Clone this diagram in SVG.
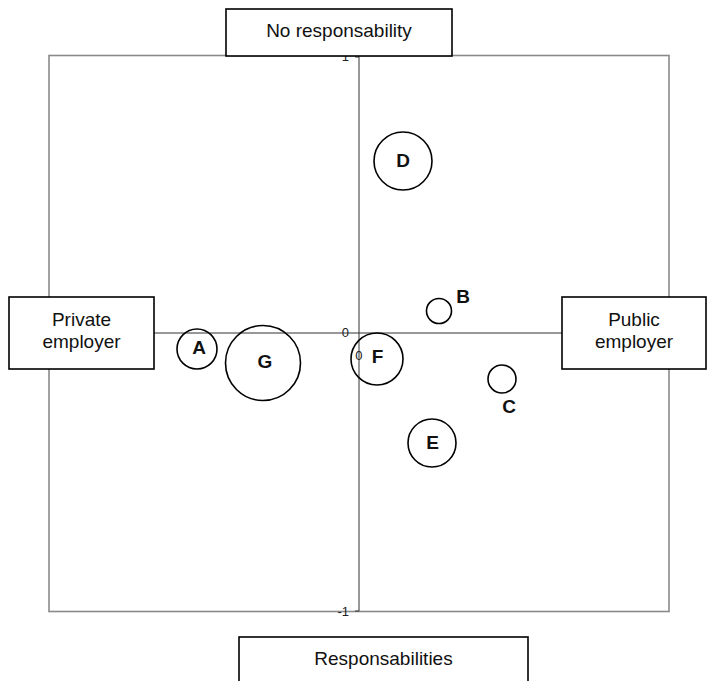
<svg xmlns="http://www.w3.org/2000/svg" width="715" height="681" viewBox="0 0 715 681">
  <style>
    .frame { fill: none; stroke: #8a8a8a; stroke-width: 1.6; }
    .axis { stroke: #333; stroke-width: 1; fill: none; }
    .box { fill: #fff; stroke: #000; stroke-width: 1.6; }
    .boxtext { font-family: "Liberation Sans", Arial, sans-serif; font-size: 19px; fill: #111; text-anchor: middle; }
    .bubble { fill: none; stroke: #000; stroke-width: 1.6; }
    .letter { font-family: "Liberation Sans", Arial, sans-serif; font-size: 19px; font-weight: bold; fill: #111; text-anchor: middle; }
    .tick { font-family: "Liberation Sans", Arial, sans-serif; font-size: 13px; fill: #222; text-anchor: end; }
  </style>
  <rect width="715" height="681" fill="#fff"/>

  <!-- plot frame -->
  <rect class="frame" x="49" y="55.5" width="620" height="556"/>

  <!-- axes and tick labels -->
  <g id="connectors">
    <line class="axis" x1="359" y1="56" x2="359" y2="611"/>
    <line class="axis" x1="154" y1="333" x2="562" y2="333"/>
    <line class="axis" x1="355" y1="611" x2="359" y2="611"/>
    <line class="axis" x1="355" y1="57" x2="359" y2="57"/>
    <text class="tick" x="349" y="61">1</text>
    <text class="tick" x="349" y="337">0</text>
    <text class="tick" x="362.5" y="360">0</text>
    <text class="tick" x="349" y="615.5">-1</text>
  </g>

  <!-- pole labels -->
  <g id="no-responsability">
    <rect class="box" x="226" y="9" width="226" height="47"/>
    <text class="boxtext" x="339" y="37">No responsability</text>
  </g>
  <g id="private-employer">
    <rect class="box" x="9" y="297" width="145" height="72"/>
    <text class="boxtext" x="81.5" y="326">Private</text>
    <text class="boxtext" x="81.5" y="348">employer</text>
  </g>
  <g id="public-employer">
    <rect class="box" x="562" y="297" width="144" height="72"/>
    <text class="boxtext" x="634" y="326">Public</text>
    <text class="boxtext" x="634" y="348">employer</text>
  </g>
  <g id="responsabilities">
    <rect class="box" x="239" y="637" width="289" height="60"/>
    <text class="boxtext" x="383.5" y="665">Responsabilities</text>
  </g>

  <!-- bubbles -->
  <g id="node-A">
    <circle class="bubble" cx="197" cy="349" r="20"/>
    <text class="letter" x="199" y="354">A</text>
  </g>
  <g id="node-G">
    <circle class="bubble" cx="263" cy="363" r="37.5"/>
    <text class="letter" x="265" y="368">G</text>
  </g>
  <g id="node-D">
    <circle class="bubble" cx="403" cy="161" r="29"/>
    <text class="letter" x="403" y="167">D</text>
  </g>
  <g id="node-F">
    <circle class="bubble" cx="377" cy="359" r="26"/>
    <text class="letter" x="377.5" y="363">F</text>
  </g>
  <g id="node-B">
    <circle class="bubble" cx="439" cy="311" r="12.5"/>
    <text class="letter" x="463" y="303">B</text>
  </g>
  <g id="node-C">
    <circle class="bubble" cx="502" cy="379" r="14"/>
    <text class="letter" x="509" y="413">C</text>
  </g>
  <g id="node-E">
    <circle class="bubble" cx="432" cy="443" r="24"/>
    <text class="letter" x="432.5" y="449">E</text>
  </g>
</svg>
